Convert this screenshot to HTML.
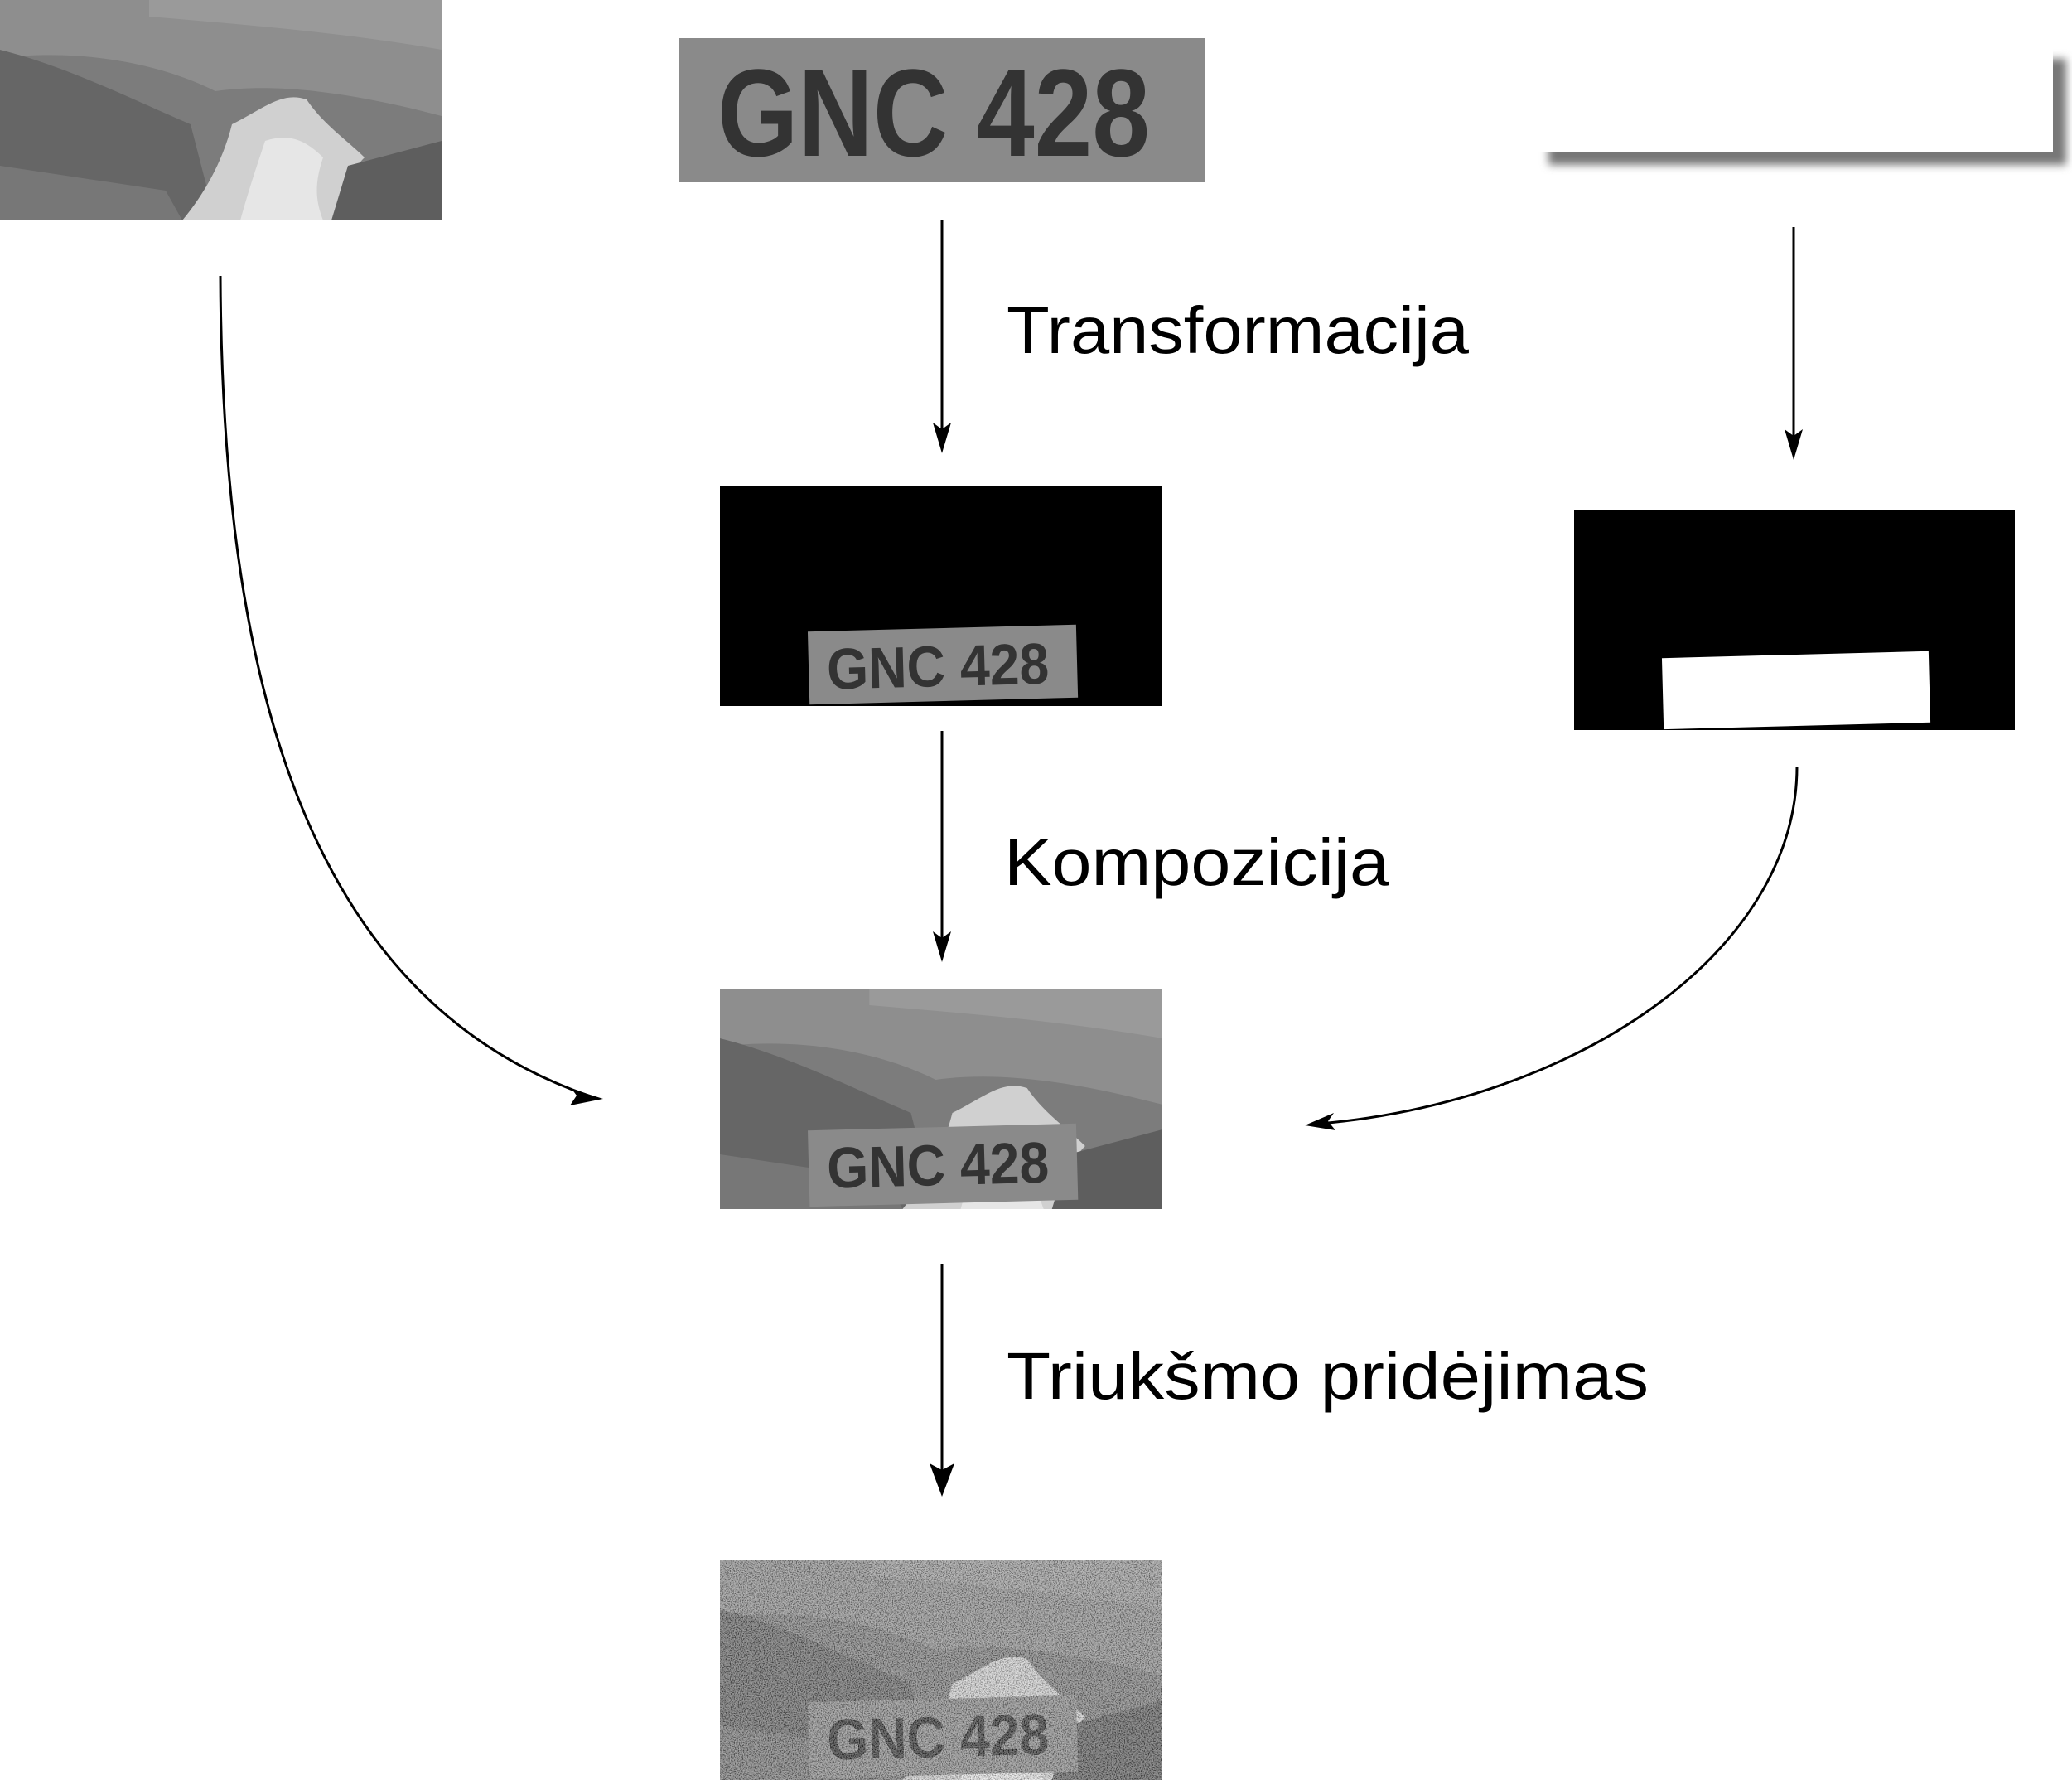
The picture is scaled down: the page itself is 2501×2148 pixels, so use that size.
<!DOCTYPE html>
<html><head><meta charset="utf-8"><style>
html,body{margin:0;padding:0;background:#fff;}
svg{display:block;}
</style></head><body>
<svg width="2501" height="2148" viewBox="0 0 2501 2148" xmlns="http://www.w3.org/2000/svg">
<defs>
<filter id="sh" x="-10%" y="-20%" width="130%" height="160%"><feGaussianBlur stdDeviation="5"/></filter>
<filter id="noise" x="0" y="0" width="100%" height="100%"><feTurbulence type="fractalNoise" baseFrequency="0.8" numOctaves="1" seed="3"/><feColorMatrix type="matrix" values="3 0 0 0 -1.05  3 0 0 0 -1.05  3 0 0 0 -1.05  0 0 0 0 0.35"/></filter>
<g id="photo">
<rect width="533" height="266" fill="#7c7c7c"/>
<path d="M0 0 H533 V140 C420 110 330 100 260 110 C180 70 80 60 0 70Z" fill="#8e8e8e"/>
<path d="M180 0 H533 V60 C420 40 300 30 180 20Z" fill="#9a9a9a"/>
<path d="M0 60 C80 80 160 120 230 150 L260 266 H0Z" fill="#666"/>
<path d="M280 150 C320 130 340 110 370 120 C390 150 420 170 440 190 C420 210 410 240 420 266 H220 C250 230 270 190 280 150Z" fill="#d0d0d0"/>
<path d="M320 170 C350 160 370 170 390 190 C380 220 380 240 390 266 H290 C300 230 310 200 320 170Z" fill="#e6e6e6"/>
<path d="M420 200 L533 170 V266 H400Z" fill="#5e5e5e"/>
<path d="M0 200 L200 230 L220 266 H0Z" fill="#777"/>
</g>
</defs>

<use href="#photo" x="0" y="0"/>

<rect x="819" y="46" width="636" height="174" fill="#8a8a8a"/>
<text x="866" y="188" font-family="Liberation Sans, sans-serif" font-weight="bold" font-size="150" fill="#333" textLength="522" lengthAdjust="spacingAndGlyphs">GNC 428</text>

<rect x="1869" y="71" width="625" height="128" fill="#777" filter="url(#sh)"/>
<rect x="1853" y="56" width="625" height="128" fill="#fff"/>

<g stroke="#000" stroke-width="3" fill="none">
<line x1="1137" y1="266" x2="1137" y2="530"/>
<line x1="2165" y1="274" x2="2165" y2="538"/>
<line x1="1137" y1="882" x2="1137" y2="1145"/>
<line x1="1137" y1="1525" x2="1137" y2="1785"/>
<path d="M266 333 C268 800 360 1200 710 1322"/>
<path d="M2169 925 C2169 1150 1900 1330 1592 1356"/>
</g>
<g fill="#000">
<path d="M1126 510 L1137 547 L1148 510 L1137 518Z"/>
<path d="M2154 518 L2165 555 L2176 518 L2165 526Z"/>
<path d="M1126 1124 L1137 1161 L1148 1124 L1137 1132Z"/>
<path d="M1122 1766 L1137 1806 L1152 1766 L1137 1774Z"/>
<path d="M728 1326 L690 1314 L696 1322 L688 1334Z"/>
<path d="M1575 1358 L1610 1343 L1603 1353 L1612 1364Z"/>
</g>

<g font-family="Liberation Sans, sans-serif" font-size="80" fill="#000">
<text x="1215" y="426" textLength="558" lengthAdjust="spacingAndGlyphs">Transformacija</text>
<text x="1212" y="1068" textLength="465" lengthAdjust="spacingAndGlyphs">Kompozicija</text>
<text x="1215" y="1688" textLength="775" lengthAdjust="spacingAndGlyphs">Triukšmo pridėjimas</text>
</g>

<rect x="869" y="586" width="534" height="266" fill="#000"/>
<g transform="rotate(-1.5 1138 800)">
<rect x="976" y="758" width="324" height="88" fill="#8a8a8a"/>
<text x="998" y="828" font-family="Liberation Sans, sans-serif" font-weight="bold" font-size="70" fill="#333" textLength="268" lengthAdjust="spacingAndGlyphs">GNC 428</text>
</g>

<rect x="1900" y="615" width="532" height="266" fill="#000"/>
<g transform="rotate(-1.5 2167 832)">
<rect x="2007" y="790" width="322" height="86" fill="#fff"/>
</g>

<svg x="869" y="1193" width="534" height="266" viewBox="0 0 533 266" preserveAspectRatio="none">
<use href="#photo"/>
</svg>
<g transform="rotate(-1.5 1138 1400)">
<rect x="976" y="1360" width="324" height="92" fill="#8a8a8a"/>
<text x="998" y="1430" font-family="Liberation Sans, sans-serif" font-weight="bold" font-size="70" fill="#333" textLength="268" lengthAdjust="spacingAndGlyphs">GNC 428</text>
</g>

<svg x="869" y="1882" width="534" height="266" viewBox="0 0 533 266" preserveAspectRatio="none">
<use href="#photo"/>
</svg>
<g transform="rotate(-1.5 1138 2090)">
<rect x="976" y="2050" width="324" height="92" fill="#8a8a8a"/>
<text x="998" y="2120" font-family="Liberation Sans, sans-serif" font-weight="bold" font-size="70" fill="#333" textLength="268" lengthAdjust="spacingAndGlyphs">GNC 428</text>
</g>
<rect x="869" y="1882" width="534" height="266" fill="#888" filter="url(#noise)"/>
</svg>
</body></html>
